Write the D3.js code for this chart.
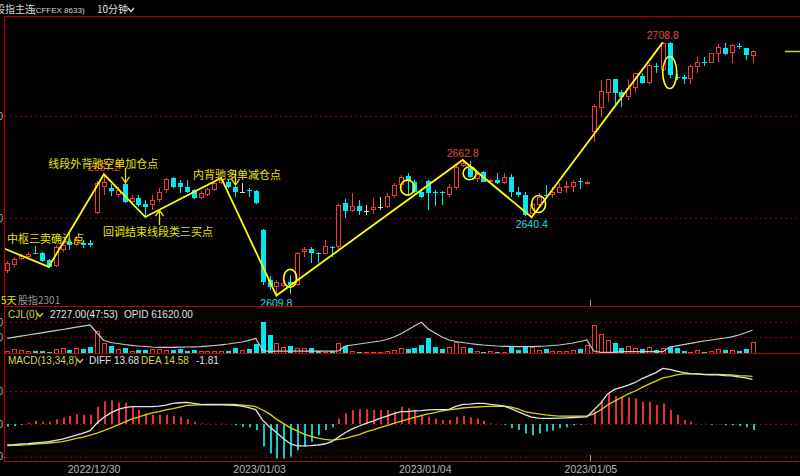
<!DOCTYPE html>
<html><head><meta charset="utf-8">
<script src="https://cdn.jsdelivr.net/npm/d3@7"></script>
<style>html,body{margin:0;padding:0;background:#000;overflow:hidden}svg{display:block}</style>
</head><body>
<svg id="c" width="800" height="476"></svg>
<script>
// ---------------- DATA ----------------
const opens  = [2619.4,2621.7,2624.2,2624.8,2626.6,2626.5,2623.7,2621.4,2627.6,2630.6,2629.6,2630.4,2630.4,
  2642.0,2652.2,2652.0,2649.0,2653.4,2646.4,2648.0,2645.6,2645.2,2647.2,2651.0,2655.8,2653.8,2652.2,2651.0,2648.0,2649.1,2651.0,2653.8,2654.2,2652.2,2650.3,2651.0,2650.7,
  2635.4,2616.0,2613.0,2613.5,2615.0,2614.0,2627.0,2628.0,2626.5,2626.2,2628.8,2628.8,2646.0,2643.0,2644.8,2643.0,2643.2,2644.4,2644.4,2648.6,2653.0,2656.5,2654.2,2650.4,
  2654.7,2650.2,2650.2,2649.1,2651.7,2660.5,2659.7,2655.2,2658.2,2654.2,2655.0,2653.9,2656.3,2650.4,2649.1,2641.5,2645.2,2649.2,2649.1,2650.0,2652.2,2652.4,2654.5,2653.8,
  2673.9,2683.0,2688.9,2694.3,2689.5,2687.5,2690.8,2695.6,2692.8,2699.7,2698.0,2708.6,2695.4,2695.4,2694.4,2699.0,2701.3,2700.8,2704.2,2706.5,2704.5,2707.5,2706.5,2703.4];
const highs  = [2623.3,2625.0,2626.0,2627.0,2629.0,2627.0,2624.2,2629.2,2630.5,2631.2,2633.0,2631.5,2631.5,
  2654.5,2657.2,2653.5,2652.2,2654.0,2649.1,2649.1,2647.2,2649.0,2652.0,2655.8,2656.0,2655.0,2655.0,2651.5,2650.5,2652.0,2654.5,2655.8,2655.4,2652.6,2653.8,2651.8,2651.0,
  2636.0,2617.5,2616.0,2616.0,2618.0,2627.0,2628.8,2628.8,2627.0,2631.5,2629.0,2645.6,2647.6,2650.0,2647.0,2645.0,2648.0,2648.3,2650.0,2653.8,2657.0,2657.7,2655.0,2650.8,
  2655.0,2651.0,2650.6,2653.4,2661.0,2662.8,2662.4,2658.5,2658.5,2655.5,2657.7,2657.7,2657.3,2652.3,2650.4,2646.5,2650.0,2652.9,2652.1,2653.7,2654.5,2655.0,2655.6,2654.6,
  2684.5,2694.1,2694.5,2694.5,2690.0,2694.5,2697.0,2696.7,2700.6,2700.6,2708.8,2708.8,2696.4,2696.0,2700.0,2703.0,2703.0,2704.8,2708.0,2708.6,2708.0,2708.7,2706.7,2705.8];
const lows   = [2618.6,2621.0,2623.6,2624.0,2626.0,2623.0,2620.6,2621.0,2627.0,2627.6,2629.0,2628.4,2628.8,
  2641.5,2649.0,2648.7,2648.3,2645.8,2646.0,2644.4,2640.8,2643.2,2646.4,2650.0,2652.0,2650.0,2650.0,2647.6,2647.5,2648.7,2650.5,2653.4,2652.0,2648.3,2649.9,2648.3,2645.6,
  2614.0,2612.0,2609.8,2613.0,2610.5,2613.5,2624.7,2622.5,2622.5,2626.0,2625.0,2628.0,2640.0,2642.5,2641.3,2641.3,2641.6,2643.2,2644.0,2648.0,2652.0,2649.1,2650.0,2648.0,
  2643.2,2644.7,2645.2,2648.4,2651.0,2660.0,2655.7,2654.2,2654.0,2653.8,2653.5,2653.5,2648.3,2648.4,2641.0,2640.4,2644.4,2648.5,2647.8,2649.7,2650.0,2650.4,2651.3,2653.6,
  2670.0,2679.7,2685.3,2683.6,2683.6,2686.3,2688.9,2692.5,2692.5,2696.7,2697.6,2694.7,2694.0,2692.5,2692.5,2697.0,2699.6,2700.6,2701.2,2704.0,2700.8,2706.1,2701.9,2700.8];
const closes = [2622.5,2624.2,2625.3,2626.0,2626.2,2623.3,2621.0,2628.8,2629.6,2629.7,2631.9,2629.6,2629.7,
  2653.7,2654.0,2650.8,2651.0,2646.4,2648.0,2645.2,2644.4,2647.2,2650.3,2655.4,2652.2,2652.2,2650.3,2648.0,2650.0,2651.5,2653.8,2655.0,2652.2,2650.3,2650.3,2650.5,2646.0,
  2615.1,2613.0,2615.0,2614.5,2614.0,2626.5,2628.0,2626.5,2626.3,2629.0,2628.4,2645.2,2643.0,2644.8,2643.0,2643.0,2644.3,2644.4,2648.7,2653.0,2656.0,2654.9,2650.4,2648.4,
  2649.8,2650.0,2649.9,2652.4,2660.2,2661.7,2656.3,2657.2,2654.3,2655.0,2653.9,2656.3,2650.4,2649.1,2641.3,2645.5,2648.5,2649.0,2650.4,2652.2,2652.5,2654.3,2654.2,2654.1,
  2683.9,2689.9,2694.3,2688.9,2687.5,2690.8,2696.7,2693.0,2700.0,2699.3,2708.4,2696.0,2695.0,2694.4,2699.6,2701.0,2701.0,2704.7,2707.1,2704.2,2707.8,2707.2,2703.9,2705.6];
const volumes = [670,1180,890,670,670,670,440,1040,1400,890,1400,1040,1620,
  5110,2380,1840,1040,1270,670,890,890,1040,1040,890,890,1040,670,890,670,670,670,670,670,1270,890,1040,2150,
  7040,4220,2380,1490,1840,1400,1400,1270,670,510,670,2380,1840,670,510,510,510,510,670,890,1270,1040,1400,2000,
  3490,1620,1040,1490,2730,1620,1270,670,510,730,510,380,1490,890,1490,1490,890,1040,670,670,670,890,1040,2000,
  6440,4370,3110,2510,1270,1780,1270,1110,1490,890,1270,1490,1270,670,510,890,510,730,1110,890,890,730,1040,2727];
const openInterest = [59960,60180,60400,60620,60840,61060,61280,61500,61720,61940,62180,62400,62620,
  61020,59520,59120,58920,58720,58560,58420,58320,58220,58160,58160,58160,58180,58220,58260,58280,58400,58520,58660,58820,59020,59220,59560,59920,
  57620,57280,57380,57380,57380,57380,57380,57380,57380,57380,57380,57420,58420,58620,58820,59020,59220,59420,59720,60220,60820,61620,62420,63160,
  61820,61020,60220,59620,59320,59120,58920,58760,58620,58520,58420,58360,58320,58280,58280,58320,58360,58420,58520,58620,58820,59020,59320,59620,
  57420,57160,57160,57160,57280,57280,57280,57280,57280,57280,57280,58220,58460,58700,58940,59180,59420,59620,59820,60020,60260,60620,61060,61620];
const diffValues = [-6.4,-6.3,-6.1,-6.0,-5.8,-5.6,-5.4,-5.0,-4.6,-4.0,-3.4,-2.8,-2.0,
  0.3,2.1,3.4,4.4,5.0,5.3,5.3,5.3,5.3,5.5,5.8,6.3,6.5,6.6,6.3,6.0,5.9,5.9,5.9,5.8,5.7,5.5,5.0,4.4,
  1.2,-0.8,-2.6,-4.4,-6.0,-6.7,-6.7,-6.6,-6.4,-6.1,-5.4,-4.0,-2.6,-1.5,-0.6,0.2,0.9,1.7,2.4,3.2,3.8,3.8,4.0,4.1,
  4.3,4.4,4.4,4.5,5.4,6.0,6.1,6.3,6.3,6.0,5.8,5.5,4.7,3.8,2.9,2.1,1.8,1.7,1.7,1.8,1.9,2.0,2.1,2.2,
  4.3,6.4,9.2,10.6,11.2,11.9,12.7,13.9,14.8,15.7,17.0,16.7,16.2,15.7,15.4,15.3,15.1,15.0,15.0,14.8,14.7,14.4,14.1,13.68];
const deaValues = [-6.6,-6.5,-6.4,-6.3,-6.1,-6.0,-5.8,-5.6,-5.4,-4.9,-4.4,-4.0,-3.4,
  -2.8,-2.0,-1.2,-0.3,0.6,1.5,2.1,2.8,3.4,3.8,4.3,4.7,5.2,5.7,5.8,5.9,6.0,6.0,6.0,6.0,6.0,5.8,5.6,5.3,
  4.3,3.1,1.5,0.2,-1.1,-2.1,-3.1,-3.8,-4.3,-4.7,-4.9,-4.7,-4.4,-3.8,-3.2,-2.4,-1.8,-1.1,-0.5,0.2,0.8,1.4,2.0,2.6,
  3.1,3.5,4.0,4.3,4.6,4.9,5.1,5.2,5.3,5.4,5.4,5.5,5.2,4.6,3.8,3.4,3.1,2.8,2.6,2.4,2.4,2.4,2.4,2.4,
  3.1,4.3,5.8,7.0,8.1,9.2,10.1,11.2,12.2,13.1,14.1,14.5,15.0,15.3,15.3,15.3,15.2,15.2,15.2,15.1,15.0,14.8,14.7,14.58];
const macdHist = [-0.8,-0.6,-0.2,0.4,1.0,0.7,0.7,1.5,1.9,2.5,3.0,2.8,2.8,
  5.3,7.0,7.3,6.6,6.5,5.3,4.3,3.3,2.8,2.8,2.8,2.5,2.2,1.5,0.7,0.2,0.1,0.1,0.2,0.1,-0.4,-0.8,-1.0,-1.8,
  -6.9,-9.0,-10.5,-10.5,-10.0,-8.0,-6.9,-5.4,-3.4,-1.8,-1.0,1.7,3.3,4.3,4.5,4.5,4.3,4.3,4.3,3.8,5.3,4.8,4.3,2.8,
  2.2,1.7,1.2,1.2,2.2,2.5,2.0,1.7,1.0,0.2,0.1,-0.2,-1.3,-1.8,-2.9,-3.4,-2.9,-2.3,-2.0,-1.3,-1.0,-0.4,-0.2,0.1,
  3.8,6.8,9.4,8.6,8.4,8.2,7.9,6.8,6.8,5.8,6.3,4.3,2.8,1.2,0.7,0.1,0.1,-0.2,-0.1,-0.4,-0.4,-0.6,-1.0,-1.81];
const dayLabels = ["2022/12/30","2023/01/03","2023/01/04","2023/01/05"];
const dayFirstBar = [13,37,61,85];
const priceGrid = [2640,2680];
const volGrid = [3770,7100];
const macdGrid = [-10,0,10];
const zigzagBar = [-3,6,14,20,31,39,66,76,95];
const zigzagPrice = [2631,2621,2657.2,2640.5,2655.8,2609.8,2662.8,2640.4,2708.8];
const extremeBar = [14,39,66,76,95];
const extremePrice = [2657.2,2609.8,2662.8,2640.4,2708.8];
const extremeKind = ["high","low","high","low","high"];
const noteText = ["线段外背驰空单加仓点","回调结束线段类三买点","中枢三卖确认点","内背驰多单减仓点"];
const noteBar = [5.94,13.87,-0.04,26.9];
const notePrice = [2659.5,2632.9,2630.5,2655.2];
const arrowBar = [17,22,33];
const arrowTip = [2653.9,2643.2,2653.0];
const arrowDir = ["down","up","down"];
const ringBar = [41,58,67,77,96];
const ringPrice = [2616.5,2652.0,2657.6,2645.6,2697.0];

// ---------------- LAYOUT / STYLE ----------------
const RED = "#f03a3a", CYAN = "#00e8f0", BORDER = "#b40000", GRID = "#900000", YEL = "#ffff00", NOTE = "#e8e400";
const ringR = [[6.5,9],[7,7.5],[6.5,6.5],[7,8.5],[7,16]];
const svg = d3.select("#c");
svg.append("rect").attr("width",800).attr("height",476).attr("fill","#000");
const N = opens.length;
const x = d3.scaleLinear().domain([0, N-1]).range([7.3, 752.5]);
const y = d3.scaleLinear().domain([2605.7, 2719.1]).range([306, 16]);
const vy = d3.scaleLinear().domain([0, 10200]).range([354, 308]);
const oy = d3.scaleLinear().domain([56820, 66020]).range([354, 308]);
const my = d3.scaleLinear().domain([-11.6, 21.4]).range([462, 354]);
const cxp = i => Math.round(x(i));

const defs = svg.append("defs");
defs.append("clipPath").attr("id","mainClip").append("rect").attr("x",5).attr("y",17).attr("width",795).attr("height",289);

// grid lines
const gridG = svg.append("g");
priceGrid.forEach(p => gridG.append("line").attr("x1",5).attr("x2",800).attr("y1",Math.round(y(p))+0.5).attr("y2",Math.round(y(p))+0.5));
volGrid.forEach(v => gridG.append("line").attr("x1",5).attr("x2",800).attr("y1",Math.round(vy(v))+0.5).attr("y2",Math.round(vy(v))+0.5));
macdGrid.forEach(v => gridG.append("line").attr("x1",5).attr("x2",800).attr("y1",Math.round(my(v))+0.5).attr("y2",Math.round(my(v))+0.5));
gridG.selectAll("line").attr("stroke",GRID).attr("stroke-dasharray","2,3").attr("stroke-width",1);

// clipped left axes (only tails visible like the reference)
const axFont = g => g.call(s=>s.select(".domain").remove()).selectAll("text").attr("fill","#b0b0b0").attr("font-family","Liberation Sans, Arial, sans-serif").attr("font-size",10);
svg.append("g").attr("transform","translate(4,0)").call(d3.axisLeft(y).tickValues(priceGrid).tickSize(0).tickPadding(1).tickFormat(d3.format("d"))).call(axFont);
svg.append("g").attr("transform","translate(4,0)").call(d3.axisLeft(vy).tickValues(volGrid).tickSize(0).tickPadding(1).tickFormat(d=>d3.format("d")(Math.round(d/10)*10))).call(axFont);
svg.append("g").attr("transform","translate(4,0)").call(d3.axisLeft(my).tickValues(macdGrid).tickSize(0).tickPadding(1).tickFormat(d3.format("d"))).call(axFont);

// ---------------- CANDLES ----------------
const cg = svg.append("g").attr("clip-path","url(#mainClip)");
for (let i=0;i<N;i++){
  const o=opens[i], c=closes[i], h=highs[i], l=lows[i];
  const cx=cxp(i);
  const up=c>o, flat=c===o;
  const col = flat ? "#d8d8d8" : (up ? RED : CYAN);
  const yt=Math.round(y(Math.max(o,c))), yb=Math.round(y(Math.min(o,c)));
  const yh=Math.round(y(h)), yl=Math.round(y(l));
  if (up){
    cg.append("line").attr("x1",cx+0.5).attr("x2",cx+0.5).attr("y1",yh).attr("y2",yt).attr("stroke",col);
    cg.append("line").attr("x1",cx+0.5).attr("x2",cx+0.5).attr("y1",yb).attr("y2",yl).attr("stroke",col);
    cg.append("rect").attr("x",cx-2+0.5).attr("y",yt+0.5).attr("width",4).attr("height",Math.max(yb-yt-1,1)).attr("fill","#000").attr("stroke",col);
  } else {
    cg.append("line").attr("x1",cx+0.5).attr("x2",cx+0.5).attr("y1",yh).attr("y2",yl).attr("stroke",col);
    cg.append("rect").attr("x",cx-2).attr("y",yt).attr("width",5).attr("height",Math.max(yb-yt,1)).attr("fill",col);
  }
}

// zigzag segments
cg.append("path").datum(zigzagBar.map((b,k)=>[x(b),y(zigzagPrice[k])]))
  .attr("d",d3.line()).attr("fill","none").attr("stroke",YEL).attr("stroke-width",1.8);

// rings
ringBar.forEach((b,k)=>cg.append("ellipse").attr("cx",x(b)).attr("cy",y(ringPrice[k])).attr("rx",ringR[k][0]).attr("ry",ringR[k][1])
  .attr("fill","none").attr("stroke",YEL).attr("stroke-width",1.6));

// extreme labels
extremeBar.forEach((b,k)=>{
  const hi = extremeKind[k]==="high";
  svg.append("text").attr("x",x(b)).attr("y",hi ? y(extremePrice[k])-3 : y(extremePrice[k])+11)
    .attr("text-anchor","middle").attr("font-family","Liberation Sans, Arial, sans-serif").attr("font-size",10.5)
    .attr("fill", hi ? "#e04848" : "#30d8e0").text(extremePrice[k].toFixed(1));
});

// notes
noteText.forEach((t,k)=>svg.append("text").attr("x",x(noteBar[k])).attr("y",y(notePrice[k]))
  .attr("font-family","Noto Sans CJK SC, sans-serif").attr("font-size",11).attr("fill",NOTE).text(t));

// arrows
arrowBar.forEach((b,k)=>{
  const ax=Math.round(x(b))+0.5, ty=y(arrowTip[k]);
  const dir = arrowDir[k]==="down" ? 1 : -1;
  const tail = ty - dir*15;
  svg.append("path").attr("d",`M${ax},${tail}L${ax},${ty}M${ax-4},${ty-dir*6}L${ax},${ty}L${ax+4},${ty-dir*6}`)
    .attr("fill","none").attr("stroke",NOTE).attr("stroke-width",1.3);
});

// last price marker
svg.append("line").attr("x1",785).attr("x2",800).attr("y1",Math.round(y(closes[N-1]))+0.5).attr("y2",Math.round(y(closes[N-1]))+0.5)
  .attr("stroke","#d8d800").attr("stroke-width",1.5);

// ---------------- VOLUME / OI ----------------
const vg = svg.append("g");
for (let i=0;i<N;i++){
  const cx=cxp(i), top=Math.round(vy(volumes[i])), base=354;
  const down = closes[i]<opens[i];
  if (down) vg.append("rect").attr("x",cx-2).attr("y",top).attr("width",5).attr("height",base-top).attr("fill",CYAN);
  else vg.append("rect").attr("x",cx-2+0.5).attr("y",top+0.5).attr("width",4).attr("height",Math.max(base-top-1,1)).attr("fill","none").attr("stroke",RED);
}
vg.append("path").datum(openInterest.map((v,i)=>[x(i),oy(v)])).attr("d",d3.line()).attr("fill","none").attr("stroke","#c8c8c8").attr("stroke-width",1.2);

// ---------------- MACD ----------------
const mg = svg.append("g");
for (let i=0;i<N;i++){
  const cx=cxp(i)+1, v=macdHist[i];
  mg.append("line").attr("x1",cx).attr("x2",cx).attr("y1",my(0)).attr("y2",my(v))
    .attr("stroke", v>=0 ? "#e83030" : "#10c8c8").attr("stroke-width",2);
}
mg.append("path").datum(deaValues.map((v,i)=>[x(i),my(v)])).attr("d",d3.line()).attr("fill","none").attr("stroke","#d8d800").attr("stroke-width",1.3);
mg.append("path").datum(diffValues.map((v,i)=>[x(i),my(v)])).attr("d",d3.line()).attr("fill","none").attr("stroke","#e4e4e4").attr("stroke-width",1.3);

// ---------------- BORDERS ----------------
const bg = svg.append("g").attr("stroke",BORDER).attr("stroke-width",1.2);
[16.5,306.5,353.5,461.5].forEach(yy=>bg.append("line").attr("x1",4).attr("x2",800).attr("y1",yy).attr("y2",yy));
bg.append("line").attr("x1",4.5).attr("x2",4.5).attr("y1",16).attr("y2",462);
// day tick
const bx = Math.round((x(dayFirstBar[3]-1)+x(dayFirstBar[3]))/2)+0.5;
svg.append("line").attr("x1",bx).attr("x2",bx).attr("y1",300).attr("y2",306).attr("stroke","#a0a0a0");
svg.append("line").attr("x1",bx).attr("x2",bx).attr("y1",455).attr("y2",461).attr("stroke","#a0a0a0");

// date axis
const dateAxis = d3.axisBottom(d3.scaleLinear().domain(x.domain()).range(x.range()))
  .tickValues(dayFirstBar.map(b=>b-0.5)).tickSize(0).tickPadding(4).tickFormat((d,k)=>dayLabels[k]);
svg.append("g").attr("transform","translate(0,462)").call(dateAxis)
  .call(g=>g.select(".domain").remove())
  .selectAll("text").attr("fill","#b8b8b8").attr("font-family","Liberation Sans, Arial, sans-serif").attr("font-size",10.5);

// ---------------- TITLES ----------------
const f = "Noto Sans CJK SC, sans-serif";
svg.append("text").attr("x",-5).attr("y",13).attr("font-family",f).attr("font-size",10).attr("fill","#d8d8d8").text("股指主连");
svg.append("text").attr("x",33).attr("y",13).attr("font-family","Liberation Sans, Arial, sans-serif").attr("font-size",8).attr("fill","#d8d8d8").text("(CFFEX 8633)");
svg.append("text").attr("x",97).attr("y",13).attr("font-family",f).attr("font-size",10).attr("fill","#e0e0e0").text("10分钟");
svg.append("path").attr("d","M128,8L131,11.5L134,8").attr("fill","none").attr("stroke","#e0e0e0").attr("stroke-width",1.2);

svg.append("text").attr("x",1).attr("y",304).attr("font-family",f).attr("font-size",10).attr("fill","#e0e000").text("5天");
svg.append("text").attr("x",18).attr("y",304).attr("font-family",f).attr("font-size",10).attr("fill","#9a9a9a").text("股指2301");

const lf = "Liberation Sans, Arial, sans-serif";
const cjl = svg.append("text").attr("y",318).attr("font-family",lf).attr("font-size",10);
cjl.append("tspan").attr("x",8).attr("fill","#d8d840").text("CJL(0)");
svg.append("path").attr("d","M37,313L40,316.5L43,313").attr("fill","none").attr("stroke","#d8d840").attr("stroke-width",1.2);
cjl.append("tspan").attr("x",50).attr("fill","#e0e0e0").text("2727.00(47:53)");
cjl.append("tspan").attr("x",124).attr("fill","#e0e0e0").text("OPID 61620.00");

const mt = svg.append("text").attr("y",364).attr("font-family",lf).attr("font-size",10);
mt.append("tspan").attr("x",8).attr("fill","#d8d840").text("MACD(13,34,8)");
svg.append("path").attr("d","M77,359L80,362.5L83,359").attr("fill","none").attr("stroke","#d8d840").attr("stroke-width",1.2);
mt.append("tspan").attr("x",89).attr("fill","#e0e0e0").text("DIFF 13.68");
mt.append("tspan").attr("x",141).attr("fill","#d8d840").text("DEA 14.58");
mt.append("tspan").attr("x",196).attr("fill","#e0e0e0").text("-1.81");
</script>
</body></html>
